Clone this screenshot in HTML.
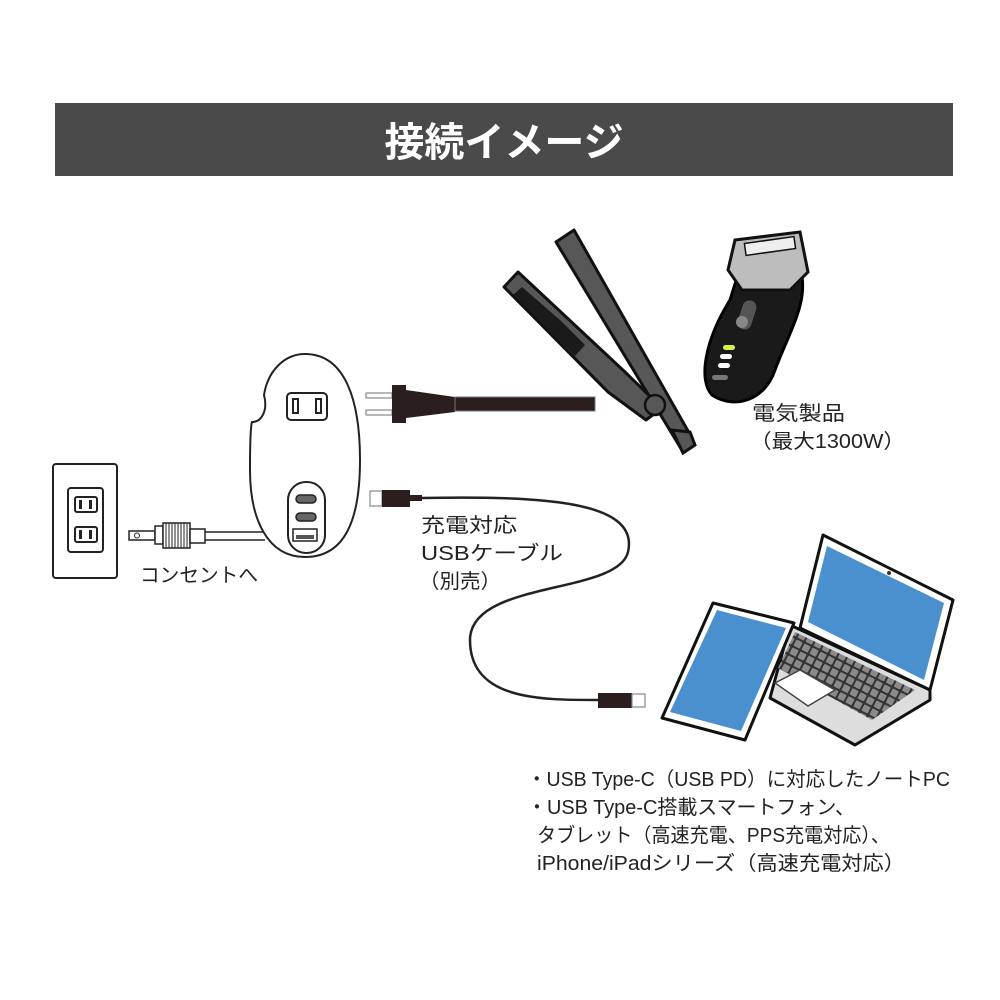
<!DOCTYPE html>
<html><head><meta charset="utf-8"><style>
html,body{margin:0;padding:0;background:#fff}
svg{display:block}
text{font-family:"Liberation Sans","Noto Sans CJK JP",sans-serif;fill:#222}
</style></head><body>
<svg width="1000" height="1000" viewBox="0 0 1000 1000" xmlns="http://www.w3.org/2000/svg">
<defs>
<pattern id="keys" width="9" height="9" patternUnits="userSpaceOnUse" patternTransform="rotate(27)">
<rect width="9" height="9" fill="#333"/><rect x="1" y="1" width="7" height="7" rx="1" fill="#8a8a8a"/>
</pattern>
</defs>
<rect x="55" y="103" width="898" height="73" fill="#4a4a4a"/>
<text x="504" y="156" text-anchor="middle" font-size="40" font-weight="bold" style="fill:#fff">接続イメージ</text>

<!-- wall outlet -->
<rect x="53" y="464" width="64" height="114" rx="3" fill="#fff" stroke="#222" stroke-width="2"/>
<rect x="68" y="488" width="35" height="64" rx="3" fill="#fff" stroke="#222" stroke-width="2"/>
<rect x="75" y="497" width="22" height="15" rx="2" fill="#fff" stroke="#222" stroke-width="2"/>
<rect x="75" y="527" width="22" height="15" rx="2" fill="#fff" stroke="#222" stroke-width="2"/>
<rect x="79" y="500" width="3" height="9" fill="#222"/><rect x="89" y="500" width="3" height="9" fill="#222"/>
<rect x="79" y="530" width="3" height="9" fill="#222"/><rect x="89" y="530" width="3" height="9" fill="#222"/>

<!-- left plug -->
<rect x="129" y="531" width="26" height="9" fill="#fff" stroke="#222" stroke-width="1.5"/>
<circle cx="137" cy="535.5" r="2.5" fill="none" stroke="#222"/>
<rect x="155" y="526" width="8" height="18" fill="#fff" stroke="#222" stroke-width="1.5"/>
<rect x="163" y="523" width="27" height="25" fill="#fff" stroke="#222" stroke-width="1.5"/>
<path d="M166,523v25M169,523v25M172,523v25M175,523v25M178,523v25M181,523v25M184,523v25M187,523v25" stroke="#222" stroke-width="1"/>
<rect x="190" y="529" width="15" height="14" fill="#fff" stroke="#222" stroke-width="1.5"/>
<path d="M205,532H265M205,540H265" stroke="#222" stroke-width="1.5"/>

<!-- adapter -->
<path d="M305,354 C345,354 360,400 360,460 C360,520 345,557 305,557 C268,557 250,520 250,470 C250,440 251,425 252,422 C262,422 268,410 264,395 C268,370 285,354 305,354Z" fill="#fff" stroke="#222" stroke-width="2"/>
<rect x="287" y="393" width="40" height="27" rx="4" fill="#fff" stroke="#222" stroke-width="2"/>
<rect x="293" y="399" width="5" height="14" fill="#fff" stroke="#222" stroke-width="2"/>
<rect x="316" y="399" width="5" height="14" fill="#fff" stroke="#222" stroke-width="2"/>
<rect x="288" y="482" width="37" height="71" rx="18" fill="#fff" stroke="#222" stroke-width="2"/>
<rect x="296" y="495" width="20" height="8" rx="4" fill="#666" stroke="#222" stroke-width="1.5"/>
<rect x="296" y="513" width="20" height="8" rx="4" fill="#666" stroke="#222" stroke-width="1.5"/>
<rect x="293" y="529" width="24" height="12" fill="#fff" stroke="#222" stroke-width="1.5"/>
<rect x="296" y="535" width="18" height="4" fill="#555"/>

<!-- right plug + cord -->
<rect x="366" y="393" width="26" height="5" fill="#fff" stroke="#888" stroke-width="1.2"/>
<rect x="366" y="410" width="26" height="5" fill="#fff" stroke="#888" stroke-width="1.2"/>
<rect x="392" y="385" width="14" height="38" fill="#2a1e1e"/>
<path d="M406,390 L455,397 L455,412 L406,418Z" fill="#2a1e1e"/>
<rect x="455" y="397" width="140" height="14" fill="#2a1e1e" stroke="#777" stroke-width="1"/>

<!-- hair iron -->
<path d="M556,242 L574,230 L692,438 L680,447 Z" fill="#575757" stroke="#111" stroke-width="3" stroke-linejoin="round"/>
<path d="M504,287 L518,272 L625,372 L662,408 L646,420 L608,392 Z" fill="#575757" stroke="#111" stroke-width="3" stroke-linejoin="round"/>
<path d="M522,287 L560,320 L585,345 L575,356 L513,295Z" fill="#1a1a1a"/>
<circle cx="655" cy="405" r="10" fill="#575757" stroke="#111" stroke-width="2.5"/>
<path d="M672,430 L690,432 L695,445 L683,453 Z" fill="#575757" stroke="#111" stroke-width="3"/>

<!-- shaver -->
<path d="M740,268 L800,268 C810,300 790,330 775,370 C765,400 735,410 712,395 C698,380 705,340 730,300 Z" fill="#1a1a1a" stroke="#000" stroke-width="3"/>
<path d="M735,240 L800,232 L808,272 L790,290 L742,290 L728,270 Z" fill="#bdbdbd" stroke="#111" stroke-width="3"/>
<rect x="745" y="240" width="50" height="12" fill="#eee" stroke="#111" stroke-width="1.5" transform="rotate(-8 770 246)"/>
<rect x="740" y="300" width="14" height="30" rx="7" fill="#555" transform="rotate(18 747 315)"/>
<circle cx="742" cy="322" r="6" fill="#888"/>
<rect x="723" y="345" width="12" height="5" rx="2.5" fill="#d6f04a"/>
<rect x="720" y="354" width="12" height="5" rx="2.5" fill="#fff"/>
<rect x="718" y="363" width="12" height="5" rx="2.5" fill="#fff"/>
<rect x="712" y="375" width="16" height="5" rx="2.5" fill="#777"/>

<text x="752" y="420" font-size="20" textLength="93" lengthAdjust="spacingAndGlyphs">電気製品</text>
<text x="750" y="448" font-size="20" textLength="155" lengthAdjust="spacingAndGlyphs">（最大1300W）</text>

<!-- USB cable -->
<rect x="370" y="491" width="12" height="15" fill="#fff" stroke="#888" stroke-width="1.2"/>
<rect x="382" y="490" width="28" height="17" fill="#2a1e1e"/>
<rect x="410" y="495" width="12" height="6" fill="#2a1e1e"/>
<path d="M422,498 C540,496 640,500 628,552 C618,595 470,580 470,640 C470,700 540,700 598,700" fill="none" stroke="#222" stroke-width="2.5"/>
<rect x="598" y="693" width="34" height="15" fill="#2a1e1e"/>
<rect x="632" y="694" width="13" height="13" fill="#fff" stroke="#888" stroke-width="1.2"/>

<text x="421" y="532" font-size="20" textLength="96" lengthAdjust="spacingAndGlyphs">充電対応</text>
<text x="421" y="560" font-size="20" textLength="142" lengthAdjust="spacingAndGlyphs">USBケーブル</text>
<text x="419" y="588" font-size="20" textLength="82" lengthAdjust="spacingAndGlyphs">（別売）</text>
<text x="140" y="582" font-size="20" textLength="118" lengthAdjust="spacingAndGlyphs">コンセントへ</text>

<!-- laptop -->
<path d="M800,628 L823,535 L953,600 L930,690 Z" fill="#fff" stroke="#111" stroke-width="3" stroke-linejoin="round"/>
<path d="M808,622 L827,546 L944,603 L924,680 Z" fill="#4a90cf"/>
<circle cx="889" cy="573" r="2" fill="#333"/>
<path d="M790,625 L930,690 L930,700 L855,745 L770,698 Z" fill="#ddd" stroke="#111" stroke-width="3" stroke-linejoin="round"/>
<path d="M795,632 L915,690 L872,720 L778,668 Z" fill="url(#keys)"/>
<path d="M775,683 L800,670 L835,690 L808,706 Z" fill="#fff" stroke="#444" stroke-width="1.5"/>
<!-- tablet -->
<path d="M713,603 L794,623 L745,740 L662,718 Z" fill="#fff" stroke="#111" stroke-width="3" stroke-linejoin="round"/>
<path d="M717,610 L786,628 L741,731 L670,712 Z" fill="#4a90cf"/>

<text x="527" y="786" font-size="20" textLength="423" lengthAdjust="spacingAndGlyphs">・USB Type-C（USB PD）に対応したノートPC</text>
<text x="527" y="814" font-size="20" textLength="328" lengthAdjust="spacingAndGlyphs">・USB Type-C搭載スマートフォン、</text>
<text x="537" y="842" font-size="20" textLength="353" lengthAdjust="spacingAndGlyphs">タブレット（高速充電、PPS充電対応）、</text>
<text x="537" y="870" font-size="20" textLength="368" lengthAdjust="spacingAndGlyphs">iPhone/iPadシリーズ（高速充電対応）</text>
</svg>
</body></html>
